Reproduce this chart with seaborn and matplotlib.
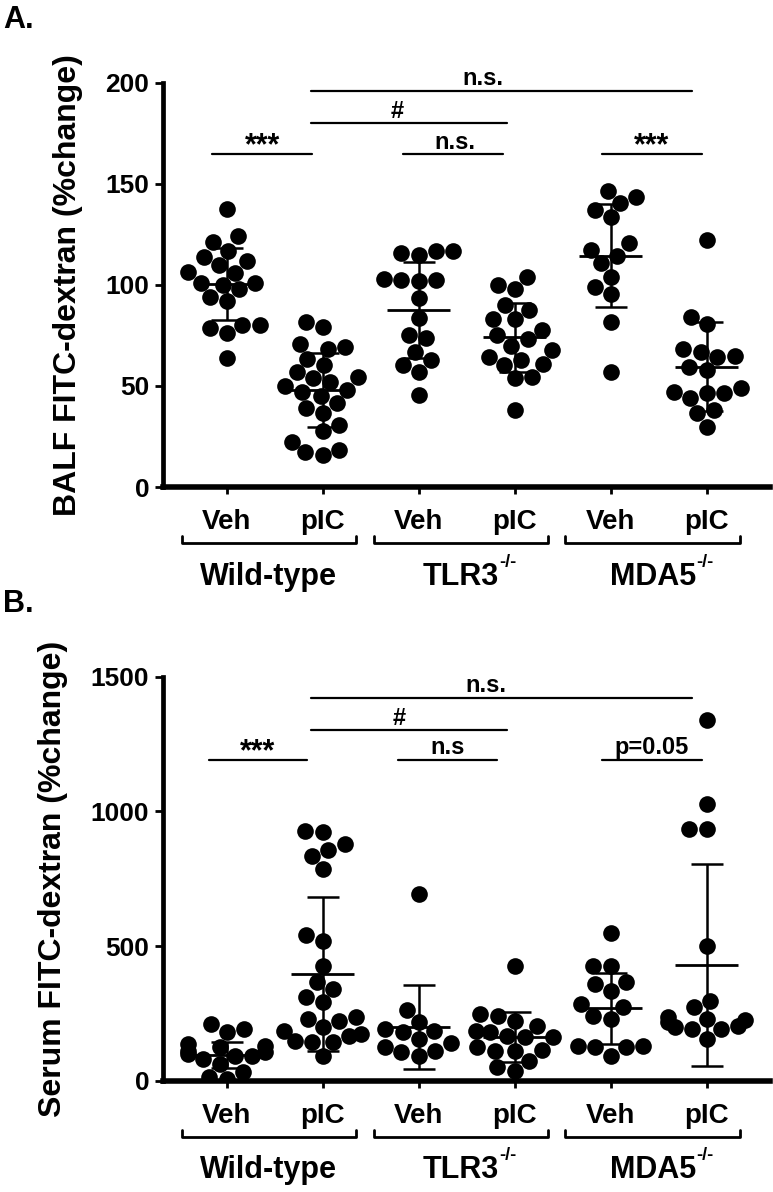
import warnings
import numpy as np
import pandas as pd
import matplotlib
matplotlib.use("Agg")
import matplotlib.pyplot as plt
import matplotlib.transforms as mtransforms
import seaborn as sns

warnings.filterwarnings("ignore")

groups = ["WT Veh", "WT pIC", "TLR3 Veh", "TLR3 pIC", "MDA5 Veh", "MDA5 pIC"]
tick_labels = ["Veh", "pIC", "Veh", "pIC", "Veh", "pIC"]
strain_names = ["Wild-type", "TLR3", "MDA5"]
strain_sup = ["", "-/-", "-/-"]

# ---- panel A: BALF FITC-dextran ----
balf_wt_veh = [137.5, 124, 121, 117, 114, 112, 110, 106.5, 106, 101, 101, 100,
               98, 94, 92, 80, 78.5, 80, 76, 64]
balf_wt_pic = [81.5, 79, 71, 69.5, 68.5, 63.5, 60.5, 57, 54.5, 54, 52, 50, 48,
               47, 45, 41.5, 39, 36.5, 30.5, 27.5, 22.5, 18.5, 17.5, 16]
balf_tlr3_veh = [117, 117, 116, 115, 103, 102.5, 102.5, 102, 93.5, 83.5, 75,
                 73.5, 67, 63, 60.5, 57, 45.5]
balf_tlr3_pic = [104, 100, 98, 90, 87.5, 83, 83, 77.5, 75, 73, 70, 68, 64.5, 63,
                 61, 60.5, 54.5, 54, 38]
balf_mda5_veh = [146.5, 143.5, 140.5, 137, 133.5, 120.5, 117.5, 114.5, 111, 104,
                 99, 95.5, 81.5, 57]
balf_mda5_pic = [122, 84, 80.5, 68.5, 67, 65, 64.5, 59.5, 58, 49, 47, 46.5,
                 46.5, 44, 38, 36.5, 29.5]
balf_mean = [100.5, 48, 87.5, 74, 114.5, 59.5]
balf_sd = [17.7, 18.5, 23.7, 17.2, 25.6, 22.1]

balf_sig_text = ["n.s.", "#", "***", "n.s.", "***"]
balf_sig_start = [0.88, 0.88, -0.15, 1.84, 3.91]
balf_sig_end = [4.85, 2.92, 0.89, 2.88, 4.95]
balf_sig_y = [196, 180, 164.5, 164.5, 164.5]
balf_sig_textx = [2.67, 1.78, 0.37, 2.38, 4.43]

# ---- panel B: Serum FITC-dextran ----
serum_wt_veh = [210, 192, 180, 136, 130, 124, 111, 105, 99, 93, 93, 80, 62,
                31, 12, 6]
serum_wt_pic = [928, 922, 879, 858, 835, 786, 541, 520, 424, 365, 340, 309,
                291, 235, 229, 223, 198, 186, 173, 167, 149, 142, 142, 93]
serum_tlr3_veh = [693, 264, 217, 192, 185, 179, 155, 140, 124, 111, 105, 93]
serum_tlr3_pic = [427, 248, 241, 223, 204, 186, 180, 167, 161, 161, 124, 115,
                  111, 111, 74, 50, 37]
serum_mda5_veh = [547, 427, 427, 365, 359, 334, 285, 272, 241, 229, 130, 130,
                  124, 124, 93]
serum_mda5_pic = [1339, 1027, 934, 934, 501, 297, 272, 235, 229, 225, 217,
                  204, 198, 192, 192, 155]
serum_mean = [95, 395, 199, 163, 269, 428]
serum_sd = [49, 286, 156, 93, 131, 375]

serum_sig_text = ["n.s.", "#", "***", "n.s", "p=0.05"]
serum_sig_start = [0.88, 0.88, -0.19, 1.78, 3.91]
serum_sig_end = [4.85, 2.92, 0.84, 2.82, 4.95]
serum_sig_y = [1422, 1301, 1191, 1191, 1191]
serum_sig_textx = [2.70, 1.80, 0.32, 2.30, 4.43]

sns.set_theme(style="ticks")
plt.rcParams["font.family"] = ["Liberation Sans", "DejaVu Sans"]
plt.rcParams["font.weight"] = "bold"
plt.rcParams["axes.labelweight"] = "bold"
for key in ["text.color", "axes.labelcolor", "xtick.color", "ytick.color",
            "axes.edgecolor"]:
    plt.rcParams[key] = "black"


def draw_panel(ax, series, means, sds, ymax, yticks, ylabel,
               sig_text, sig_start, sig_end, sig_y, sig_textx):
    df = pd.DataFrame({
        "group": np.concatenate([[g] * len(v) for g, v in zip(groups, series)]),
        "value": np.concatenate([np.asarray(v, float) for v in series]),
    })
    sns.swarmplot(data=df, x="group", y="value", order=groups, color="black",
                  size=12, linewidth=0, ax=ax, zorder=2)
    pos = np.arange(len(groups))
    ax.errorbar(pos, means, yerr=sds, fmt="none", ecolor="black",
                elinewidth=1.8, capsize=11.5, capthick=1.8, zorder=3)
    ax.hlines(means, pos - 0.33, pos + 0.33, color="black", lw=2, zorder=3)

    ax.set_xlim(-0.664, 5.66)
    ax.set_ylim(0, ymax)
    ax.set_yticks(yticks)
    ax.set_yticklabels([str(t) for t in yticks], fontsize=19, fontweight="bold")
    ax.set_xticks(pos)
    ax.set_xticklabels(tick_labels, fontsize=20, fontweight="bold")
    ax.set_xlabel("")
    ax.set_ylabel(ylabel, fontsize=23, fontweight="bold", labelpad=16)
    sns.despine(ax=ax)
    ax.spines["left"].set_linewidth(3.4)
    ax.spines["bottom"].set_linewidth(4)
    ax.tick_params(axis="y", direction="out", length=6, width=2, pad=4)
    ax.tick_params(axis="x", direction="out", length=5, width=2, pad=11)

    # significance bars
    for t, x1, x2, y, tx in zip(sig_text, sig_start, sig_end, sig_y, sig_textx):
        ax.plot([x1, x2], [y, y], color="black", lw=1.6, clip_on=False)
        stars = set(t) == {"*"}
        ax.annotate(t, xy=(tx, y), xytext=(0, 0 if stars else 4),
                    textcoords="offset points", ha="center", va="baseline",
                    fontsize=22 if stars else 17, fontweight="bold",
                    annotation_clip=False)

    # strain brackets under the axis
    trans = mtransforms.blended_transform_factory(ax.transData, ax.transAxes)
    for i, (name, sup) in enumerate(zip(strain_names, strain_sup)):
        s = 2 * i
        ax.plot([s - 0.47, s - 0.47, s + 1.35, s + 1.35],
                [-0.121, -0.1385, -0.1385, -0.121], color="black", lw=2,
                transform=trans, clip_on=False)
        txt = ax.text(s + 0.44, -0.222, name, transform=trans, ha="center",
                      va="center", fontsize=22, fontweight="bold")
        if sup:
            ax.annotate(sup, xy=(1.0, 0.98), xycoords=txt, ha="left",
                        va="center", fontsize=13, fontweight="bold")


fig = plt.figure(figsize=(7.73, 11.92), dpi=100)
ax_a = fig.add_axes([0.2109, 0.5914, 0.785, 0.3392])
ax_b = fig.add_axes([0.2109, 0.0934, 0.785, 0.3389])

draw_panel(ax_a,
           [balf_wt_veh, balf_wt_pic, balf_tlr3_veh, balf_tlr3_pic,
            balf_mda5_veh, balf_mda5_pic],
           balf_mean, balf_sd, 200, [0, 50, 100, 150, 200],
           "BALF FITC-dextran (%change)",
           balf_sig_text, balf_sig_start, balf_sig_end, balf_sig_y,
           balf_sig_textx)

draw_panel(ax_b,
           [serum_wt_veh, serum_wt_pic, serum_tlr3_veh, serum_tlr3_pic,
            serum_mda5_veh, serum_mda5_pic],
           serum_mean, serum_sd, 1500, [0, 500, 1000, 1500],
           "Serum FITC-dextran (%change)",
           serum_sig_text, serum_sig_start, serum_sig_end, serum_sig_y,
           serum_sig_textx)

fig.text(0.004, 0.996, "A.", fontsize=22, fontweight="bold", va="top")
fig.text(0.004, 0.506, "B.", fontsize=22, fontweight="bold", va="top")

fig.savefig("out.png", dpi=100)
